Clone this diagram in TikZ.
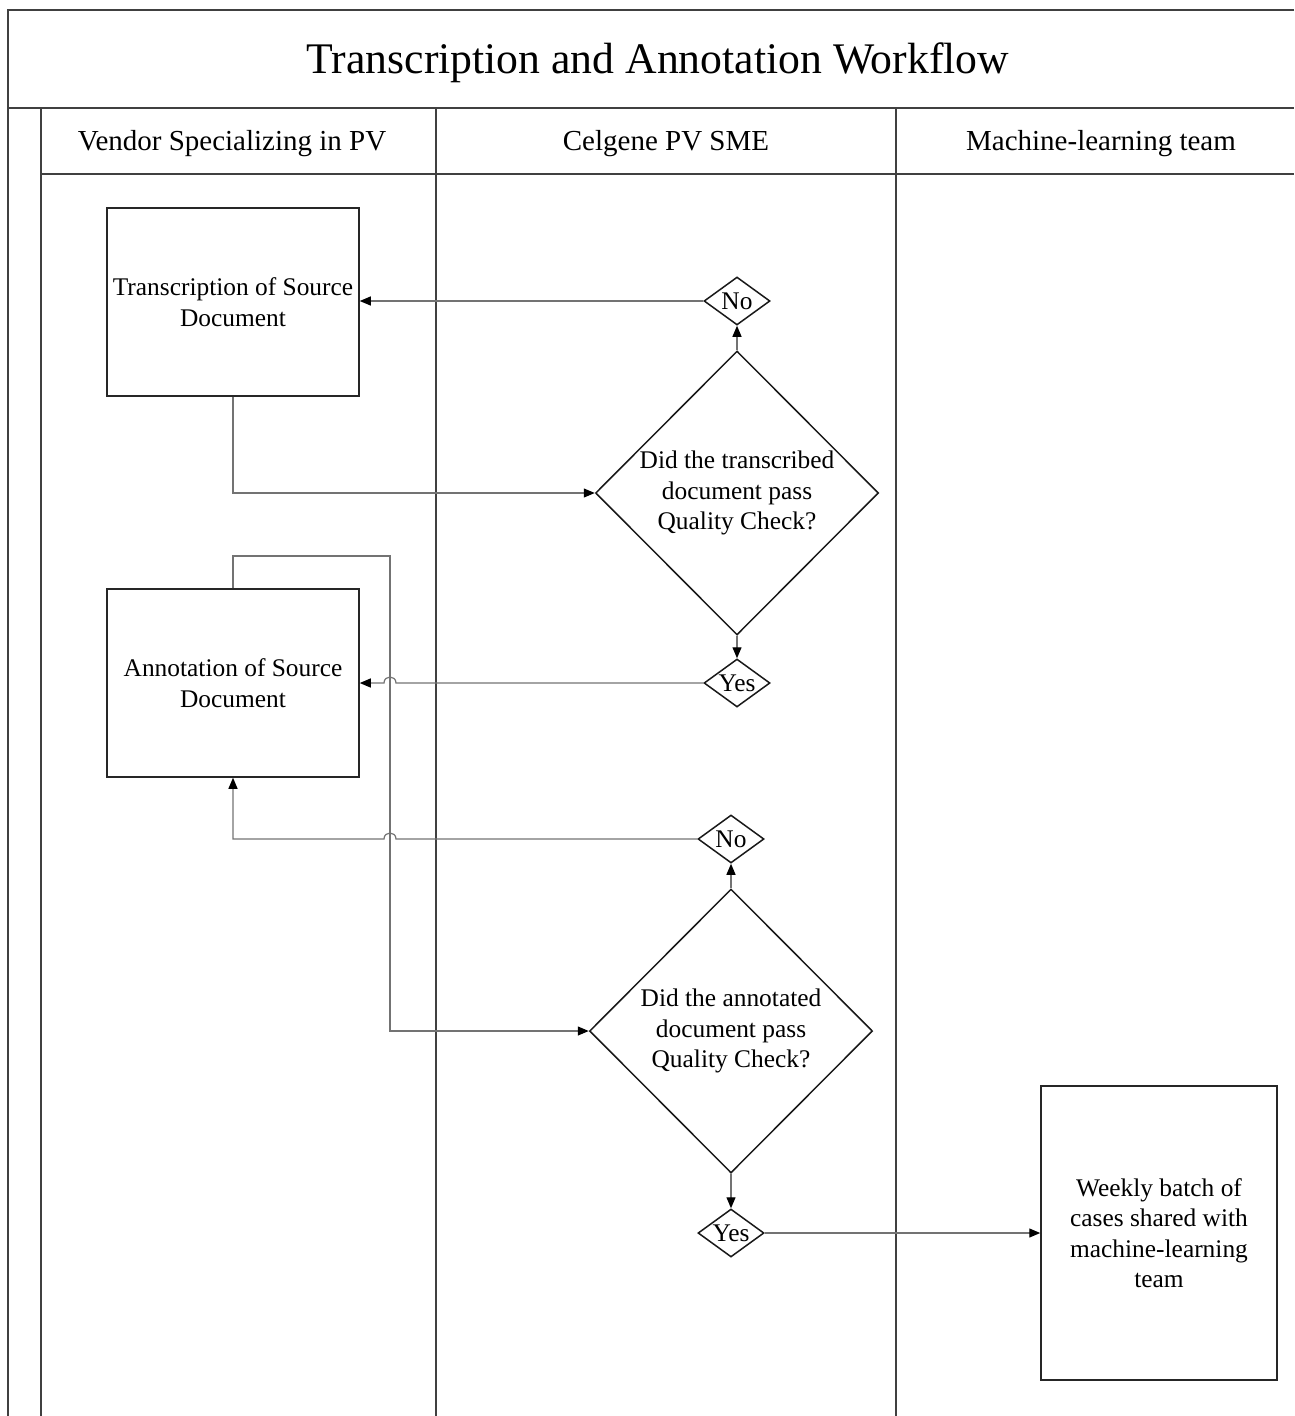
\documentclass[tikz,border=0pt]{standalone}
\usepackage{fontspec}
\setmainfont{Liberation Serif}
\usetikzlibrary{arrows.meta,shapes.geometric}
\begin{document}
\begin{tikzpicture}[x=1pt,y=-1pt,
  frame/.style={draw=black!75,line width=1.8pt},
  txt/.style={font=\fontsize{25.4}{30.5}\selectfont,align=center},
  procbox/.style={txt,draw=black!85,line width=1.5pt,minimum width=252pt,minimum height=188pt,inner sep=0pt},
  bigdia/.style={txt,diamond,draw=black!90,line width=1.5pt,minimum width=283pt,minimum height=284pt,inner sep=-6pt},
  smalldia/.style={txt,diamond,draw=black!90,line width=1.5pt,minimum width=66pt,minimum height=48pt,inner sep=-4pt,aspect=1.375},
  conn/.style={draw=black!55,line width=1.2pt,-{Triangle[length=11pt,width=9pt,color=black]}},
  hdr/.style={font=\fontsize{29}{35}\selectfont}
]
\useasboundingbox (0,0) rectangle (1294,1416);
% frame
\draw[frame] (1294,10) -- (8,10) -- (8,1416);
\draw[frame] (8,108) -- (1294,108);
\draw[frame] (41,108) -- (41,1416);
\draw[frame] (41,174) -- (1294,174);
\draw[frame] (436,108) -- (436,1416);
\draw[frame] (896,108) -- (896,1416);
% titles
\node[font=\fontsize{43.7}{52}\selectfont] (title) at (658,63) {Transcription and Annotation Workflow};
\node[hdr] (lane1) at (232,144) {Vendor Specializing in PV};
\node[hdr] (lane2) at (666,144) {Celgene PV SME};
\node[hdr] (lane3) at (1101,144) {Machine-learning team};
% boxes
\node[procbox] (trans) at (233,302) {Transcription of Source\\Document};
\node[procbox] (ann) at (233,683) {Annotation of Source\\Document};
\node[procbox,minimum width=236pt,minimum height=294pt] (weekly) at (1159,1233) {Weekly batch of\\cases shared with\\machine-learning\\team};
% diamonds
\node[bigdia] (d1) at (737,493) {Did the transcribed\\document pass\\Quality Check?};
\node[smalldia] (no1) at (737,301) {No};
\node[smalldia] (yes1) at (737,683) {Yes};
\node[bigdia] (d2) at (731,1031) {Did the annotated\\document pass\\Quality Check?};
\node[smalldia] (no2) at (731,839) {No};
\node[smalldia] (yes2) at (731,1233) {Yes};
% helper coordinates
\coordinate (loopT) at (390,556);
% connectors
\draw[conn] (trans.south) |- (d1.west);
\draw[conn] (d1.north) -- (no1.south);
\draw[conn] (no1.west) -- (no1.west -| trans.east);
\draw[conn] (d1.south) -- (yes1.north);
\draw[conn] (yes1.west) -- ([xshift=6pt]loopT |- yes1.west) .. controls +(0,-8) and +(0,-8) .. ++(-12,0) -- (yes1.west -| ann.east);
\draw[conn] (ann.north) |- (loopT) |- (d2.west);
\draw[conn] (d2.north) -- (no2.south);
\draw[conn] (no2.west) -- ([xshift=6pt]loopT |- no2.west) .. controls +(0,-8) and +(0,-8) .. ++(-12,0) -| (ann.south);
\draw[conn] (d2.south) -- (yes2.north);
\draw[conn] (yes2.east) -- (yes2.east -| weekly.west);
\end{tikzpicture}
\end{document}
